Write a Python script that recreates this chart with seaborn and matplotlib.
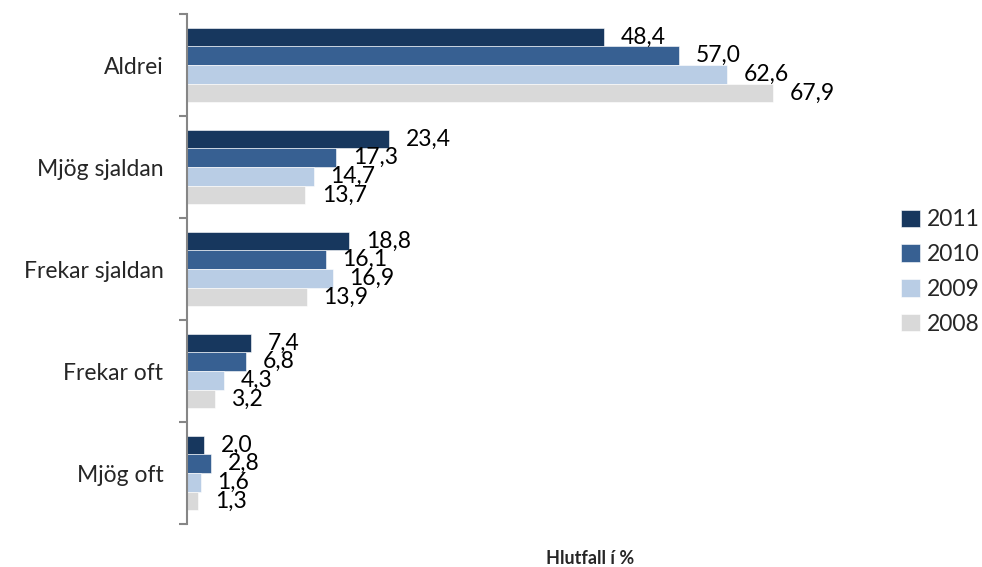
import pandas as pd
import seaborn as sns
import matplotlib.pyplot as plt
import numpy as np

# Data
categories = ['Aldrei', 'Mjög sjaldan', 'Frekar sjaldan', 'Frekar oft', 'Mjög oft']
years = ['2011', '2010', '2009', '2008']
v2011 = [48.4, 23.4, 18.8, 7.4, 2.0]
v2010 = [57.0, 17.3, 16.1, 6.8, 2.8]
v2009 = [62.6, 14.7, 16.9, 4.3, 1.6]
v2008 = [67.9, 13.7, 13.9, 3.2, 1.3]
colors = ['#17375E', '#376092', '#B9CDE5', '#D9D9D9']

rows = []
for year, vals in zip(years, [v2011, v2010, v2009, v2008]):
    for cat, v in zip(categories, vals):
        rows.append({'cat': cat, 'year': year, 'value': v})
df = pd.DataFrame(rows)

sns.set_style('white')
plt.rcParams['font.family'] = ['Lato', 'DejaVu Sans']

fig = plt.figure(figsize=(9.82, 5.67), dpi=100)
ax = fig.add_axes([187 / 982, 1 - 524 / 567, 690 / 982, 510 / 567])

sns.barplot(data=df, y='cat', x='value', hue='year', order=categories,
            hue_order=years, palette=colors, orient='h', width=0.73,
            saturation=1, ax=ax, legend=True, edgecolor='white', linewidth=0.4)

# value labels with comma decimals
for cont in ax.containers:
    vals = [b.get_width() for b in cont]
    ax.bar_label(cont, labels=[f"{v:.1f}".replace('.', ',') for v in vals],
                 padding=12, fontsize=16.5, color='black')

ax.set_xlim(0, 80)
ax.set_ylim(4.5, -0.5)
ax.set_xlabel('')
ax.set_ylabel('')
ax.set_xticks([])

for s in ['top', 'right', 'bottom']:
    ax.spines[s].set_visible(False)
ax.spines['left'].set_color('#868686')
ax.spines['left'].set_linewidth(1.5)

ax.set_yticks(range(len(categories)))
ax.set_yticklabels(categories, fontsize=16.5)
ax.set_yticks(np.arange(-0.5, 5.0, 1.0), minor=True)
ax.tick_params(axis='y', which='both', left=True)
ax.tick_params(axis='y', which='major', length=0, pad=17)
ax.tick_params(axis='y', which='minor', length=6, width=1.5, color='#868686', direction='out')

handles, labels = ax.get_legend_handles_labels()
ax.legend(handles, labels, loc='center left', bbox_to_anchor=(892 / 982, 1 - 272 / 567),
          bbox_transform=fig.transFigure, frameon=False, fontsize=16.5,
          handlelength=0.8, handleheight=0.8, handletextpad=0.3, labelspacing=0.6,
          borderaxespad=0)

fig.text(590 / 982, 1 - 558 / 567, 'Hlutfall í %', ha='center', va='center',
         fontsize=13, fontweight='bold')

fig.savefig('out.png', dpi=100)
